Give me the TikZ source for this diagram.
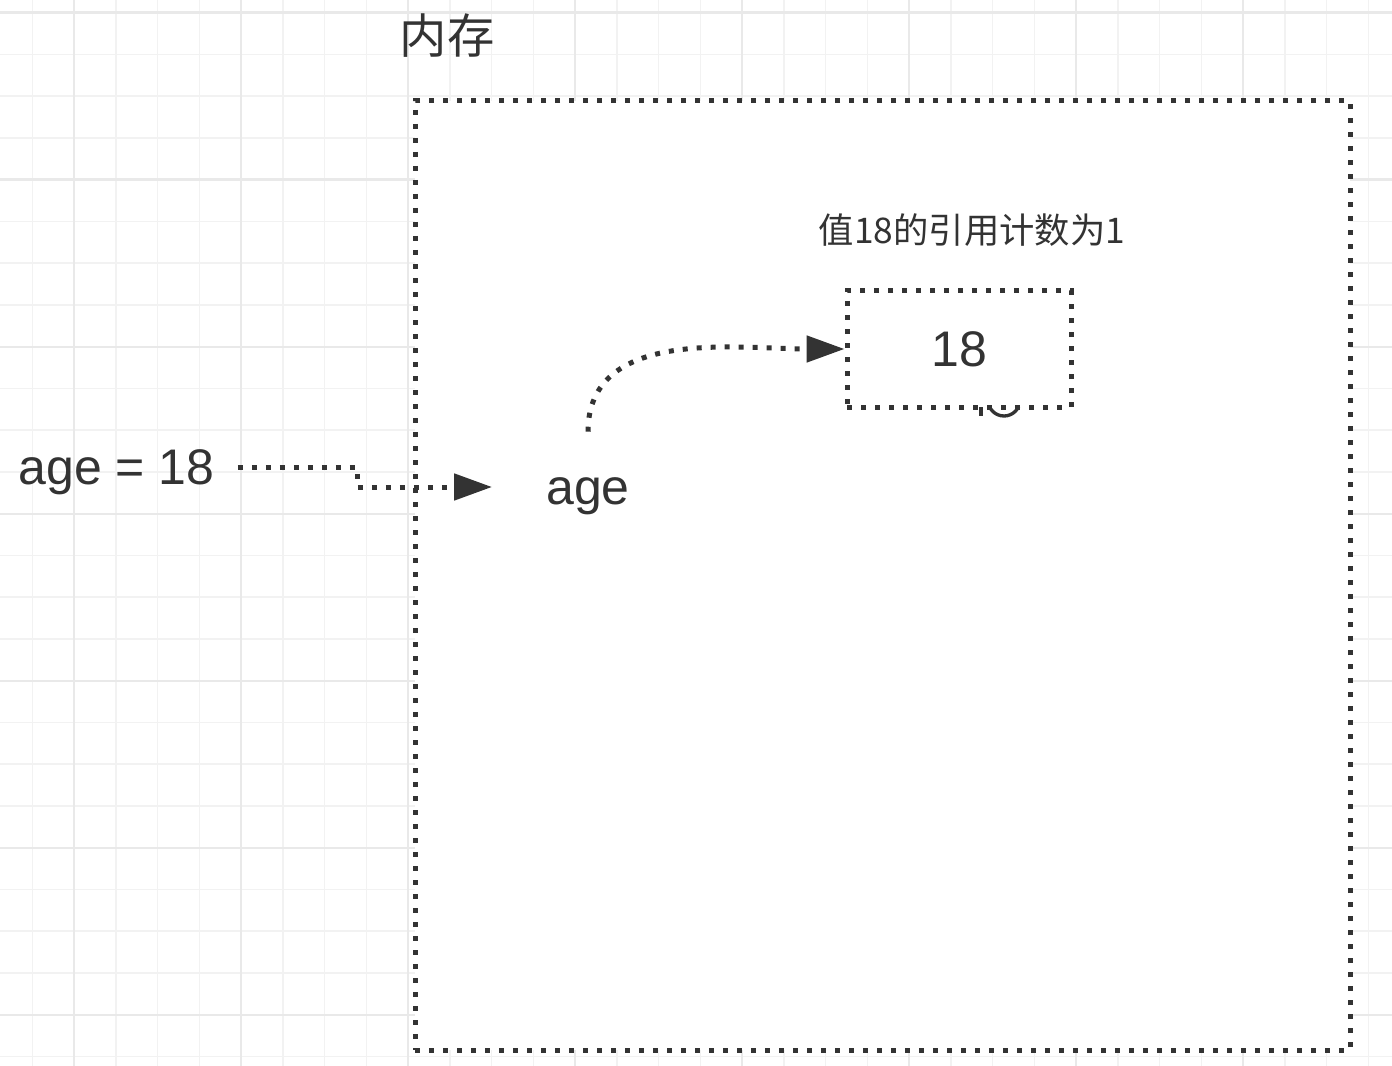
\documentclass[tikz,border=0pt]{standalone}
\usepackage{fontspec}
\setmainfont{Liberation Sans}
\newfontfamily\cjk{Noto Sans CJK SC}
\usetikzlibrary{arrows.meta}
\definecolor{ink}{RGB}{51,51,51}
\definecolor{gridminor}{RGB}{242,242,242}
\definecolor{gridmajor}{RGB}{233,233,233}
\begin{document}
\begin{tikzpicture}[x=0.75pt,y=-0.75pt,
  minorline/.style={gridminor,line width=1.2pt},
  majorline/.style={gridmajor,line width=1.8pt},
  dotline/.style={draw=ink,line width=3.75pt,dash pattern=on 3.75pt off 6.75pt},
  conn/.style={dotline,-{Triangle[length=28.5pt,width=19.5pt]}},
  latin/.style={text=ink,font=\fontsize{37.5}{45}\selectfont,text height=30pt,text depth=3.75pt,inner sep=0pt},
  cjktitle/.style={text=ink,font=\cjk\fontsize{35.5}{42}\selectfont,inner sep=0pt},
  cjklabel/.style={text=ink,font=\cjk\fontsize{26.5}{32}\selectfont,inner sep=0pt},
  membox/.style={dotline,fill=white,minimum width=701.25pt,minimum height=711.75pt,inner sep=0pt},
  valbox/.style={latin,dotline,fill=white,minimum width=168pt,minimum height=87pt},
  artline/.style={ink,line width=2.5pt}
]
\useasboundingbox (0,0) rectangle (1392,1066);
\fill[white] (0,0) rectangle (1392,1066);
% grid
\foreach \i in {0,...,32} \draw[minorline] ({32.3+41.75*\i},0) -- ({32.3+41.75*\i},1066);
\foreach \i in {0,...,25} \draw[minorline] (0,{12.7+41.75*\i}) -- (1392,{12.7+41.75*\i});
\foreach \i in {0,...,7} \draw[majorline] ({74.05+167*\i},0) -- ({74.05+167*\i},1066);
\foreach \i in {0,...,6} \draw[majorline] (0,{12.7+167*\i}) -- (1392,{12.7+167*\i});
% memory box
\node[membox] (mem) at (882.5,575.5) {};
\node[cjktitle] (title) at (447,36) {内存};
\node[cjklabel] (cnt) at (972,230) {值18的引用计数为1};
% partly hidden mark under the value box
\draw[artline] (1004,400) circle[radius=16];
\draw[artline] (981,395) -- (981,416);
% value box
\node[valbox] (val) at (959,349) {18};
% variable labels
\node[latin] (lbl) at (116.5,467) {age = 18};
\node[latin,inner xsep=17.25pt] (lblc) at (116.5,467) {\phantom{age = 18}};
\node[latin,inner xsep=40.5pt,inner ysep=24.4pt] (agev) at (588,487) {age};
% connectors
\coordinate (jog) at (357,487);
\draw[conn] (lblc.east) -| (jog) -- (agev.west);
\draw[conn] (agev.north) to[out=90,in=180] (val.west);
\end{tikzpicture}
\end{document}
